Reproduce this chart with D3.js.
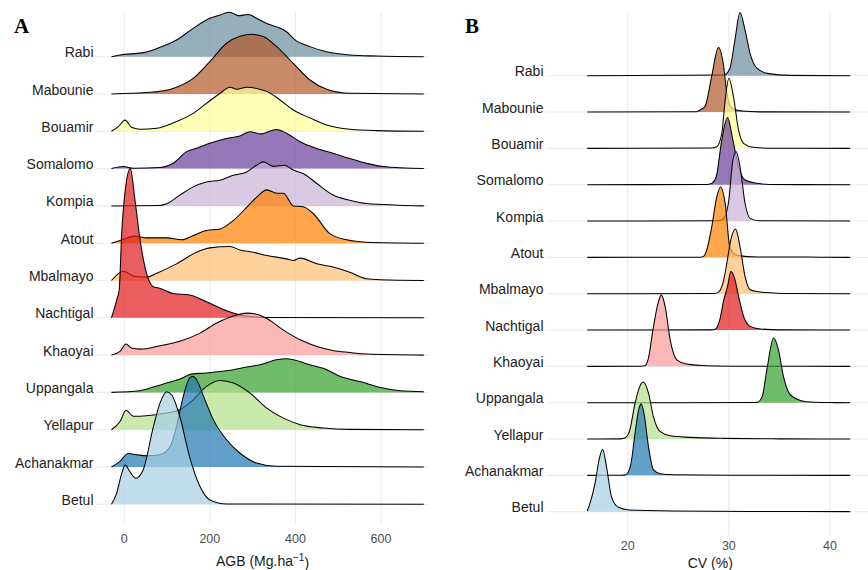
<!DOCTYPE html>
<html>
<head>
<meta charset="utf-8">
<script src="https://cdn.jsdelivr.net/npm/d3@7"></script>
<style>
  body { margin: 0; background: #fff; }
  svg { display: block; font-family: "Liberation Sans", Arial, sans-serif; }
</style>
</head>
<body>
<svg id="chart" width="868" height="570"></svg>
<script>
// sites, top to bottom
const sites = ['Rabi', 'Mabounie', 'Bouamir', 'Somalomo', 'Kompia', 'Atout', 'Mbalmayo',
  'Nachtigal', 'Khaoyai', 'Uppangala', 'Yellapur', 'Achanakmar', 'Betul'];
const siteColors = ['#6b8c9e', '#b15928', '#ffff99', '#6a3d9a', '#cab2d6', '#ff7f00', '#fdbf6f',
  '#e31a1c', '#fb9a99', '#33a02c', '#b2df8a', '#1f78b4', '#a6cee3'];

const agbTicks = [0, 200, 400, 600];
const cvTicks = [20, 30, 40];

// AGB densities: [AGB, height in row units]
const rabiAGB = [[-30, 0], [-10, 0.045], [48, 0.116], [76, 0.22], [122, 0.446], [161, 0.76], [200, 1.03],
  [224, 1.12], [243, 1.19], [255, 1.16], [266, 1.1], [290, 1.13], [309, 1.03], [333, 0.89], [356, 0.8],
  [379, 0.67], [399, 0.45], [434, 0.27], [473, 0.13], [527, 0.045], [590, 0.018], [700, 0]];
const mabounieAGB = [[-30, 0], [60, 0.045], [114, 0.15], [161, 0.42], [200, 0.87], [239, 1.36], [270, 1.55],
  [298, 1.6], [325, 1.54], [356, 1.27], [395, 0.82], [434, 0.375], [473, 0.125], [527, 0.018], [700, 0]];
const bouamirAGB = [[-30, 0], [-14, 0.125], [2, 0.3], [17, 0.107], [37, 0.054], [76, 0.08], [122, 0.26],
  [161, 0.48], [192, 0.75], [224, 1.02], [247, 1.18], [263, 1.125], [286, 1.18], [309, 1.15], [333, 1.07],
  [364, 0.84], [395, 0.57], [434, 0.36], [473, 0.17], [527, 0.054], [590, 0.018], [700, 0]];
const somalomoAGB = [[-30, 0], [-2, 0.054], [21, 0.009], [83, 0.027], [114, 0.143], [146, 0.455], [169, 0.545],
  [200, 0.68], [239, 0.81], [270, 0.875], [294, 0.99], [317, 0.93], [356, 1.05], [379, 0.95], [411, 0.72],
  [450, 0.54], [488, 0.41], [527, 0.27], [566, 0.143], [605, 0.054], [700, 0]];
const kompiaAGB = [[-30, 0], [80, 0.01], [99, 0.06], [130, 0.29], [161, 0.51], [192, 0.64], [224, 0.69], [255, 0.82],
  [286, 0.91], [309, 1.09], [325, 1.18], [348, 1.06], [375, 1.09], [395, 0.96], [418, 0.87], [450, 0.6],
  [488, 0.29], [527, 0.15], [566, 0.063], [700, 0]];
const atoutAGB = [[-30, 0], [-10, 0.07], [25, 0.19], [52, 0.143], [99, 0.143], [134, 0.09], [161, 0.205],
  [192, 0.34], [224, 0.38], [255, 0.61], [286, 0.96], [309, 1.23], [333, 1.43], [356, 1.34], [372, 1.34],
  [395, 1.0], [418, 0.98], [442, 0.79], [481, 0.25], [520, 0.09], [566, 0.027], [700, 0]];
const mbalmayoAGB = [[-30, 0], [-2, 0.25], [25, 0.107], [52, 0.09], [76, 0.196], [122, 0.446], [169, 0.76],
  [200, 0.875], [247, 0.91], [270, 0.82], [301, 0.76], [333, 0.67], [379, 0.58], [395, 0.535], [411, 0.6],
  [450, 0.45], [488, 0.36], [527, 0.22], [566, 0.045], [598, 0.018], [700, 0]];
const nachtigalAGB = [[-30, 0], [-18, 0.47], [-12, 0.74], [-6, 2.27], [2, 3.4], [14, 4.0], [25, 3.15],
  [37, 2.08], [52, 1.19], [68, 0.83], [83, 0.79], [114, 0.65], [153, 0.61], [192, 0.43], [239, 0.19],
  [286, 0.045], [333, 0.01], [700, 0]];
const khaoyaiAGB = [[-30, 0], [-10, 0.098], [4, 0.295], [17, 0.19], [37, 0.16], [83, 0.25], [130, 0.37],
  [177, 0.59], [216, 0.86], [255, 1.05], [286, 1.125], [309, 1.098], [333, 0.98], [372, 0.67], [411, 0.41],
  [450, 0.232], [488, 0.125], [527, 0.071], [566, 0.027], [700, 0]];
const uppangalaAGB = [[-30, 0], [37, 0.045], [68, 0.143], [99, 0.25], [130, 0.357], [157, 0.49], [192, 0.52],
  [224, 0.56], [255, 0.61], [286, 0.68], [317, 0.74], [356, 0.875], [379, 0.9], [395, 0.875], [434, 0.74],
  [473, 0.61], [504, 0.43], [551, 0.29], [605, 0.116], [644, 0.045], [700, 0.018]];
const yellapurAGB = [[-30, 0], [-10, 0.22], [4, 0.52], [21, 0.36], [52, 0.375], [99, 0.446], [130, 0.536],
  [161, 0.8], [192, 1.16], [224, 1.32], [255, 1.25], [294, 0.98], [333, 0.58], [372, 0.31], [411, 0.134],
  [465, 0.045], [527, 0.009], [700, 0]];
const achanakmarAGB = [[-30, 0], [-10, 0.15], [9, 0.36], [29, 0.33], [52, 0.3], [83, 0.33], [107, 0.55],
  [122, 1.09], [138, 1.9], [153, 2.39], [160, 2.43], [169, 2.34], [185, 1.9], [208, 1.27], [239, 0.73],
  [270, 0.375], [309, 0.107], [356, 0.018], [700, 0]];
const betulAGB = [[-30, 0], [-18, 0.295], [-6, 0.83], [2, 1.05], [13, 0.875], [27, 0.7], [44, 0.92],
  [68, 2.08], [83, 2.7], [99, 3.02], [111, 2.93], [130, 2.34], [153, 1.26], [177, 0.475], [200, 0.116],
  [239, 0.009], [700, 0]];

// CV densities: [CV %, height in row units]
const rabiCV = [[16, 0], [29.5, 0.018], [30.1, 0.2], [30.6, 0.98], [31.1, 1.74], [31.6, 1.26], [32.1, 0.61],
  [32.8, 0.2], [33.8, 0.064], [36, 0.009], [42, 0]];
const mabounieCV = [[16, 0], [26.8, 0.01], [27.2, 0.064], [27.65, 0.156], [28.3, 0.98], [28.97, 1.78],
  [29.47, 1.3], [29.8, 0.52], [30.3, 0.11], [31.1, 0.037], [33, 0.005], [42, 0]];
const bouamirCV = [[16, 0], [28.3, 0.01], [28.8, 0.046], [29.3, 0.41], [29.64, 1.33], [30.0, 1.93],
  [30.46, 1.42], [30.96, 0.5], [31.45, 0.14], [32.4, 0.03], [34, 0.005], [42, 0]];
const somalomoCV = [[16, 0], [27.8, 0.005], [28.3, 0.037], [28.75, 0.22], [29.3, 1.23], [29.87, 1.85],
  [30.4, 1.23], [30.96, 0.5], [31.6, 0.128], [32.8, 0.037], [34, 0.005], [42, 0]];
const kompiaCV = [[16, 0], [29.0, 0.01], [29.5, 0.073], [30.0, 0.58], [30.4, 1.68], [30.73, 1.91],
  [31.1, 1.5], [31.6, 0.49], [32.1, 0.073], [33, 0.01], [42, 0]];
const atoutCV = [[16, 0], [27.2, 0.005], [27.5, 0.027], [27.8, 0.19], [28.3, 0.83], [28.8, 1.66],
  [29.17, 1.94], [29.64, 1.48], [30.1, 0.28], [30.8, 0.055], [32.8, 0.009], [36, 0.012], [39, 0.005], [42, 0]];
const mbalmayoCV = [[16, 0], [28.6, 0.005], [29.0, 0.05], [29.5, 0.39], [29.8, 0.84], [30.2, 1.49],
  [30.66, 1.78], [31.1, 1.3], [31.6, 0.48], [32.1, 0.11], [32.8, 0.06], [34.4, 0.02], [36, 0.005], [42, 0]];
const nachtigalCV = [[16, 0], [28.3, 0.005], [28.65, 0.02], [29.1, 0.28], [29.5, 0.83], [29.87, 1.2],
  [30.2, 1.61], [30.6, 1.39], [30.96, 0.93], [31.45, 0.38], [32.1, 0.1], [33.1, 0.03], [35, 0.005], [42, 0]];
const khaoyaiCV = [[16, 0], [21.3, 0.005], [21.7, 0.018], [22.05, 0.23], [22.5, 1.01], [23.0, 1.74],
  [23.33, 1.97], [23.7, 1.65], [24.2, 0.73], [24.85, 0.18], [25.8, 0.064], [27.8, 0.018], [32, 0.005], [42, 0]];
const uppangalaCV = [[16, 0], [32.4, 0.003], [32.8, 0.009], [33.3, 0.174], [33.76, 0.91], [34.42, 1.78],
  [34.9, 1.46], [35.4, 0.72], [36.07, 0.22], [37.06, 0.064], [38.05, 0.018], [40, 0.004], [42, 0]];
const yellapurCV = [[16, 0], [19.3, 0.005], [19.7, 0.027], [20.17, 0.21], [20.73, 0.99], [21.2, 1.45],
  [21.55, 1.57], [22.05, 1.27], [22.54, 0.62], [23.2, 0.21], [24.2, 0.09], [26.2, 0.046], [29.5, 0.018],
  [35, 0.005], [42, 0]];
const achanakmarCV = [[16, 0], [19.4, 0.004], [19.8, 0.018], [20.3, 0.29], [20.73, 1.17], [21.12, 1.85],
  [21.32, 1.97], [21.6, 1.72], [22.05, 0.8], [22.54, 0.156], [23.2, 0.046], [24.5, 0.018], [30, 0.005], [42, 0]];
const betulCV = [[16, 0.018], [16.27, 0.23], [16.77, 0.78], [17.2, 1.47], [17.52, 1.72], [17.9, 1.24],
  [18.4, 0.41], [19.08, 0.12], [20.2, 0.046], [24.5, 0.018], [32, 0.006], [42, 0.002]];

const agbSeries = [rabiAGB, mabounieAGB, bouamirAGB, somalomoAGB, kompiaAGB, atoutAGB, mbalmayoAGB,
  nachtigalAGB, khaoyaiAGB, uppangalaAGB, yellapurAGB, achanakmarAGB, betulAGB];
const cvSeries = [rabiCV, mabounieCV, bouamirCV, somalomoCV, kompiaCV, atoutCV, mbalmayoCV,
  nachtigalCV, khaoyaiCV, uppangalaCV, yellapurCV, achanakmarCV, betulCV];

const svg = d3.select('#chart');

function ridgePanel(opts) {
  const { series, ticks, x, rows, rowH, panel, labelX, tickY, title, titleY, tag, tagX } = opts;
  const y = d3.scalePoint().domain(sites).range(rows);
  const h = d3.scaleLinear().domain([0, 1]).range([0, rowH]);
  const g = svg.append('g');

  // grid
  g.append('g').selectAll('line')
    .data(ticks)
    .join('line')
    .attr('x1', (d) => x(d)).attr('x2', (d) => x(d))
    .attr('y1', panel.top).attr('y2', panel.bottom)
    .attr('stroke', '#ebebeb').attr('stroke-width', 1.1);
  g.append('g').selectAll('line')
    .data(sites)
    .join('line')
    .attr('x1', panel.left).attr('x2', panel.right)
    .attr('y1', (d) => y(d)).attr('y2', (d) => y(d))
    .attr('stroke', '#ebebeb').attr('stroke-width', 1.1);

  // ridges, top row first so lower rows sit on top
  sites.forEach((site, i) => {
    const base = y(site);
    const area = d3.area()
      .x((d) => x(d[0]))
      .y0(base)
      .y1((d) => base - h(d[1]))
      .curve(d3.curveMonotoneX);
    g.append('path')
      .datum(series[i])
      .attr('d', area)
      .attr('fill', siteColors[i])
      .attr('fill-opacity', 0.7);
    g.append('path')
      .datum(series[i])
      .attr('d', area.lineY1())
      .attr('fill', 'none')
      .attr('stroke', '#000')
      .attr('stroke-width', 1.05);
  });

  // row labels
  g.append('g').selectAll('text')
    .data(sites)
    .join('text')
    .attr('x', labelX)
    .attr('y', (d) => y(d) + 0.5)
    .attr('text-anchor', 'end')
    .attr('font-size', 14)
    .attr('fill', '#222')
    .text((d) => d);

  // tick labels
  g.append('g').selectAll('text')
    .data(ticks)
    .join('text')
    .attr('x', (d) => x(d))
    .attr('y', tickY)
    .attr('dy', '0.35em')
    .attr('text-anchor', 'middle')
    .attr('font-size', 12.5)
    .attr('fill', '#4d4d4d')
    .text((d) => d);

  const t = g.append('text')
    .attr('x', (panel.left + panel.right) / 2)
    .attr('y', titleY)
    .attr('dy', '0.35em')
    .attr('text-anchor', 'middle')
    .attr('font-size', 14)
    .attr('fill', '#1a1a1a');
  title(t);

  g.append('text')
    .attr('x', tagX)
    .attr('y', 32.5)
    .attr('font-family', '"Liberation Serif", "DejaVu Serif", serif')
    .attr('font-weight', 'bold')
    .attr('font-size', 21)
    .text(tag);
}

ridgePanel({
  series: agbSeries,
  ticks: agbTicks,
  x: d3.scaleLinear().domain([0, 600]).range([124.3, 381]),
  rows: [56.7, 504.3],
  rowH: 37.3,
  panel: { left: 96, right: 429, top: 12, bottom: 523 },
  labelX: 93.5,
  tickY: 538.3,
  title: (t) => {
    t.append('tspan').text('AGB (Mg.ha');
    t.append('tspan').attr('font-size', 10).attr('dy', '-0.45em').text('\u22121');
    t.append('tspan').attr('dy', '0.45em').text(')');
  },
  titleY: 561,
  tag: 'A',
  tagX: 14,
});

ridgePanel({
  series: cvSeries,
  ticks: cvTicks,
  x: d3.scaleLinear().domain([20, 40]).range([627.7, 830]),
  rows: [75.7, 511.7],
  rowH: 36.3,
  panel: { left: 546.5, right: 874, top: 12, bottom: 535 },
  labelX: 543.5,
  tickY: 545.3,
  title: (t) => t.text('CV (%)'),
  titleY: 563.5,
  tag: 'B',
  tagX: 465,
});
</script>
</body>
</html>
